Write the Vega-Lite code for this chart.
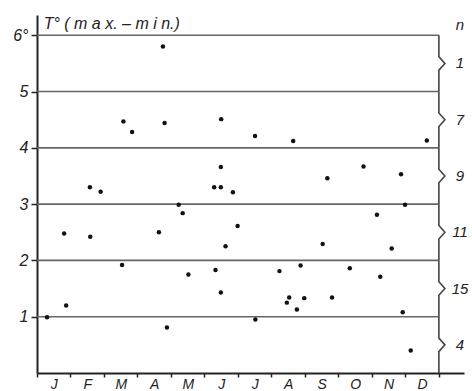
{
  "$schema": "https://vega.github.io/schema/vega-lite/v6.json",
  "width": 427,
  "height": 358,
  "autosize": "none",
  "padding": {"left": 37, "top": 15, "right": 8, "bottom": 18},
  "config": {
    "view": {"stroke": null},
    "font": "Liberation Sans",
    "axis": {"labelFont": "Liberation Sans", "labelFontStyle": "italic", "labelFontSize": 16, "labelColor": "#222", "domainColor": "#222", "domainWidth": 2, "tickColor": "#222", "tickWidth": 1.5, "grid": false},
    "axisX": {"labelOverlap": false, "labelFontSize": 14}
  },
  "encoding": {
    "x": {"field": "x", "type": "quantitative", "scale": {"domain": [0, 12.75], "nice": false, "zero": false},
      "axis": {"title": null, "values": [0, 1, 2, 3, 4, 5, 6, 7, 8, 9, 10, 11, 12], "tickCount": 13, "tickSize": 4, "labelOffset": 16.75, "labelOverlap": false, "labelBound": false, "labelFlush": false, "labelPadding": 0,
        "labelExpr": "datum.value == 0 ? 'J' : datum.value == 1 ? 'F' : datum.value == 2 ? 'M' : datum.value == 3 ? 'A' : datum.value == 4 ? 'M' : datum.value == 5 ? 'J' : datum.value == 6 ? 'J' : datum.value == 7 ? 'A' : datum.value == 8 ? 'S' : datum.value == 9 ? 'O' : datum.value == 10 ? 'N' : datum.value == 11 ? 'D' : ''"}},
    "y": {"field": "y", "type": "quantitative", "scale": {"domain": [0, 6.36], "nice": false, "zero": false},
      "axis": {"title": null, "values": [1, 2, 3, 4, 5, 6], "format": "d", "tickSize": 6, "labelPadding": 3, "labelExpr": "datum.value == 6 ? '6°' : datum.label"}}
  },
  "layer": [
    {
      "data": {"values": [{"x": 0, "x2": 12, "y": 1}, {"x": 0, "x2": 12, "y": 2}, {"x": 0, "x2": 12, "y": 3}, {"x": 0, "x2": 12, "y": 4}, {"x": 0, "x2": 12, "y": 5}, {"x": 0, "x2": 12, "y": 6}]},
      "mark": {"type": "rule", "color": "#666", "strokeWidth": 1.6},
      "encoding": {
        "x2": {"field": "x2"}
      }
    },
    {
      "data": {"values": [
        {"band": "a", "x": 12, "y": 6}, {"band": "a", "x": 12, "y": 5.62}, {"band": "a", "x": 12.18, "y": 5.5}, {"band": "a", "x": 12, "y": 5.38}, {"band": "a", "x": 12, "y": 5},
        {"band": "b", "x": 12, "y": 5}, {"band": "b", "x": 12, "y": 4.62}, {"band": "b", "x": 12.18, "y": 4.5}, {"band": "b", "x": 12, "y": 4.38}, {"band": "b", "x": 12, "y": 4},
        {"band": "c", "x": 12, "y": 4}, {"band": "c", "x": 12, "y": 3.62}, {"band": "c", "x": 12.18, "y": 3.5}, {"band": "c", "x": 12, "y": 3.38}, {"band": "c", "x": 12, "y": 3},
        {"band": "d", "x": 12, "y": 3}, {"band": "d", "x": 12, "y": 2.62}, {"band": "d", "x": 12.18, "y": 2.5}, {"band": "d", "x": 12, "y": 2.38}, {"band": "d", "x": 12, "y": 2},
        {"band": "e", "x": 12, "y": 2}, {"band": "e", "x": 12, "y": 1.62}, {"band": "e", "x": 12.18, "y": 1.5}, {"band": "e", "x": 12, "y": 1.38}, {"band": "e", "x": 12, "y": 1},
        {"band": "f", "x": 12, "y": 1}, {"band": "f", "x": 12, "y": 0.62}, {"band": "f", "x": 12.18, "y": 0.5}, {"band": "f", "x": 12, "y": 0.38}, {"band": "f", "x": 12, "y": 0}
      ]},
      "mark": {"type": "line", "color": "#444", "strokeWidth": 1.6},
      "encoding": {
        "detail": {"field": "band"},
        "order": {"field": "y"}
      }
    },
    {
      "data": {"values": [
        {"x": 0.30, "y": 0.99}, {"x": 0.81, "y": 2.48}, {"x": 0.87, "y": 1.20}, {"x": 1.59, "y": 2.42}, {"x": 1.58, "y": 3.30},
        {"x": 1.90, "y": 3.22}, {"x": 2.54, "y": 1.92}, {"x": 2.58, "y": 4.47}, {"x": 2.84, "y": 4.28}, {"x": 3.76, "y": 5.80},
        {"x": 3.81, "y": 4.44}, {"x": 3.64, "y": 2.50}, {"x": 3.88, "y": 0.81}, {"x": 4.23, "y": 2.99}, {"x": 4.35, "y": 2.84},
        {"x": 4.52, "y": 1.75}, {"x": 5.33, "y": 1.83}, {"x": 5.49, "y": 1.43}, {"x": 5.29, "y": 3.30}, {"x": 5.49, "y": 3.30},
        {"x": 5.49, "y": 3.66}, {"x": 5.50, "y": 4.51}, {"x": 5.85, "y": 3.21}, {"x": 5.63, "y": 2.25}, {"x": 5.99, "y": 2.61},
        {"x": 6.51, "y": 4.21}, {"x": 6.52, "y": 0.95}, {"x": 7.65, "y": 4.12}, {"x": 7.24, "y": 1.81}, {"x": 7.87, "y": 1.91},
        {"x": 7.46, "y": 1.25}, {"x": 7.53, "y": 1.34}, {"x": 7.76, "y": 1.13}, {"x": 7.98, "y": 1.33}, {"x": 8.67, "y": 3.46},
        {"x": 8.53, "y": 2.29}, {"x": 8.81, "y": 1.34}, {"x": 9.34, "y": 1.86}, {"x": 9.75, "y": 3.67}, {"x": 10.15, "y": 2.81},
        {"x": 10.25, "y": 1.71}, {"x": 10.59, "y": 2.21}, {"x": 10.87, "y": 3.53}, {"x": 10.99, "y": 2.99}, {"x": 10.92, "y": 1.08},
        {"x": 11.16, "y": 0.40}, {"x": 11.64, "y": 4.13}
      ]},
      "mark": {"type": "point", "filled": true, "color": "#111", "size": 20, "opacity": 1}
    },
    {
      "data": {"values": [
        {"x": 12.63, "y": 5.5, "label": "1"}, {"x": 12.63, "y": 4.5, "label": "7"}, {"x": 12.63, "y": 3.5, "label": "9"},
        {"x": 12.63, "y": 2.5, "label": "11"}, {"x": 12.63, "y": 1.5, "label": "15"}, {"x": 12.63, "y": 0.5, "label": "4"},
        {"x": 12.63, "y": 6.18, "label": "n"}
      ]},
      "mark": {"type": "text", "fontSize": 15, "fontStyle": "italic", "color": "#222", "align": "center", "baseline": "middle"},
      "encoding": {
        "text": {"field": "label"}
      }
    },
    {
      "data": {"values": [{"x": 0.2, "y": 6.2, "label": "T° ( m a x. – m i n.)"}]},
      "mark": {"type": "text", "fontSize": 16, "fontStyle": "italic", "color": "#222", "align": "left", "baseline": "middle"},
      "encoding": {
        "text": {"field": "label"}
      }
    }
  ]
}
